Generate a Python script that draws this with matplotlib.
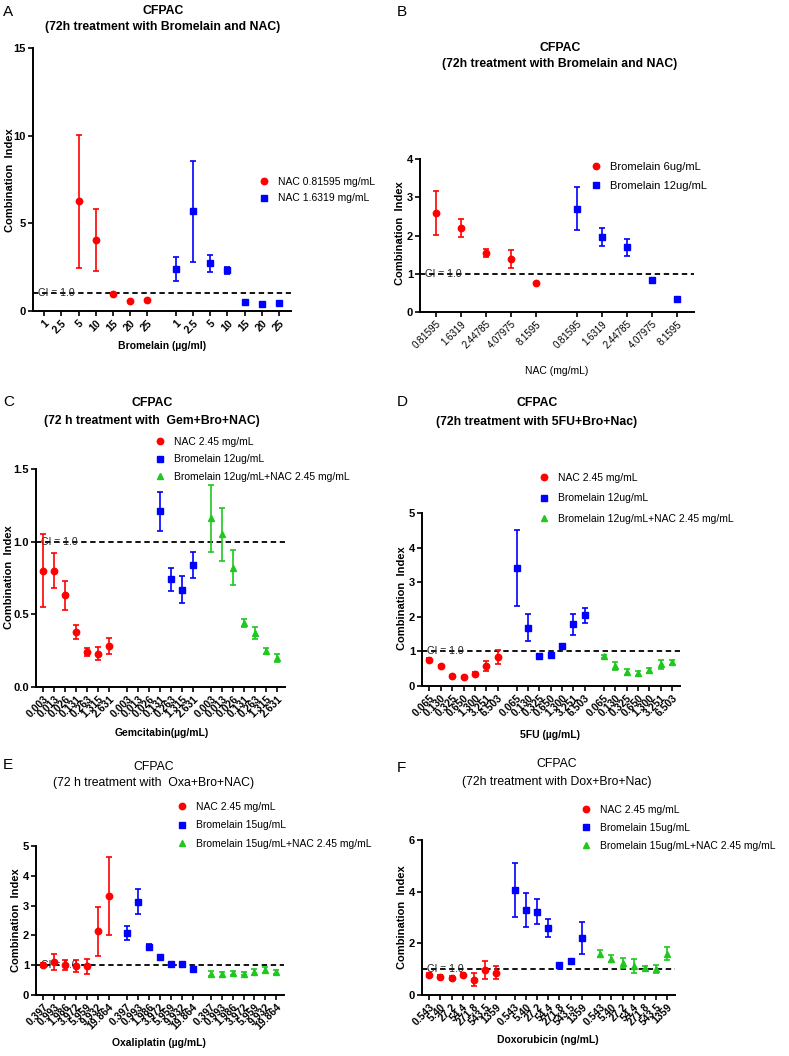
import numpy as np
import matplotlib.pyplot as plt
from matplotlib.lines import Line2D

plt.rcParams["font.family"] = ["Liberation Sans", "DejaVu Sans"]

nan = np.nan
W, H = 789, 1056
GAP = 0.67
RED, BLUE, GREEN = "#ff0000", "#0000ff", "#1fc71f"

# ---- data (mean, error) ----
labels_A = ["1", "2.5", "5", "10", "15", "20", "25"]
a_nac1 = [nan, nan, 6.27, 4.04, 0.99, 0.57, 0.65]
a_nac1_err = [nan, nan, 3.79, 1.75, 0.05, nan, nan]
a_nac2 = [2.40, 5.68, 2.72, 2.32, 0.50, 0.38, 0.48]
a_nac2_err = [0.67, 2.87, 0.47, 0.19, nan, nan, nan]

labels_B = ["0.81595", "1.6319", "2.44785", "4.07975", "8.1595"]
b_bro6 = [2.59, 2.20, 1.55, 1.39, 0.77]
b_bro6_err = [0.58, 0.23, 0.11, 0.23, nan]
b_bro12 = [2.70, 1.96, 1.69, 0.83, 0.34]
b_bro12_err = [0.56, 0.24, 0.22, nan, nan]

labels_C = ["0.003", "0.013", "0.026", "0.131", "0.263", "1.315", "2.631"]
c_nac = [0.80, 0.80, 0.63, 0.38, 0.24, 0.23, 0.28]
c_nac_err = [0.25, 0.12, 0.10, 0.05, 0.025, 0.045, 0.055]
c_bro = [nan, nan, nan, 1.21, 0.74, 0.67, 0.84]
c_bro_err = [nan, nan, nan, 0.135, 0.08, 0.095, 0.09]
c_combo = [1.16, 1.05, 0.82, 0.44, 0.37, 0.25, 0.20]
c_combo_err = [0.23, 0.18, 0.12, 0.03, 0.04, 0.02, 0.03]

labels_D = ["0.065", "0.130", "0.325", "0.650", "1.300", "3.251", "6.503"]
d_nac = [0.76, 0.57, 0.28, 0.26, 0.36, 0.57, 0.84]
d_nac_err = [0.05, 0.05, 0.03, 0.03, 0.04, 0.15, 0.19]
d_bro = [3.41, 1.69, 0.87, 0.91, 1.15, 1.78, 2.04]
d_bro_err = [1.11, 0.38, 0.05, 0.05, 0.06, 0.31, 0.22]
d_combo = [0.86, 0.57, 0.40, 0.37, 0.45, 0.63, 0.69]
d_combo_err = [0.04, 0.12, 0.09, 0.07, 0.07, 0.13, 0.07]

labels_E = ["0.397", "0.993", "1.986", "3.972", "5.959", "9.932", "19.864"]
e_nac = [1.00, 1.11, 1.02, 0.97, 0.96, 2.14, 3.33]
e_nac_err = [0.07, 0.26, 0.17, 0.19, 0.26, 0.82, 1.30]
e_bro = [2.08, 3.13, 1.61, 1.26, 1.04, 1.04, 0.88]
e_bro_err = [0.25, 0.42, 0.11, 0.04, 0.03, 0.03, 0.04]
e_combo = [0.72, 0.69, 0.74, 0.72, 0.77, 0.83, 0.77]
e_combo_err = [0.09, 0.07, 0.06, 0.06, 0.11, 0.10, 0.08]

labels_F = ["0.543", "5.40", "27.2", "54.4", "271.8", "543.5", "1359"]
f_nac = [0.79, 0.71, 0.67, 0.79, 0.60, 0.97, 0.87]
f_nac_err = [0.08, 0.07, 0.07, 0.06, 0.25, 0.35, 0.25]
f_bro = [4.06, 3.30, 3.23, 2.59, 1.18, 1.31, 2.21]
f_bro_err = [1.05, 0.66, 0.50, 0.35, 0.06, 0.10, 0.61]
f_combo = [1.60, 1.41, 1.24, 1.13, 1.05, 1.02, 1.60]
f_combo_err = [0.13, 0.14, 0.21, 0.26, 0.08, 0.16, 0.26]

fig = plt.figure(figsize=(W / 100, H / 100), dpi=100)

MS = {"o": 4.6, "s": 4.3, "^": 5.0}


def px_axes(left, top, right, bottom):
    return fig.add_axes([left / W, 1 - bottom / H, (right - left) / W, (bottom - top) / H])


def panel(rect, labels, series, ylim, yticks, yfmt="{:g}", tick_bold="bold", tick_fs=7.5):
    ax = px_axes(*rect)
    n = len(labels)
    all_pos = []
    for g, (vals, errs, color, marker) in enumerate(series):
        pos = g * (n + GAP) + np.arange(n)
        all_pos.extend(pos)
        ax.errorbar(pos, vals, yerr=errs, fmt=marker, color=color, ms=MS[marker],
                    elinewidth=1.2, capsize=2.2, capthick=1.2, zorder=4)
    ax.set_xlim(-0.65, all_pos[-1] + 0.7)
    ax.set_ylim(*ylim)
    ax.axhline(1.0, color="black", ls=(0, (3, 2)), lw=1.3, zorder=2)
    ax.text(0.02, 1.0, "CI = 1.0", transform=ax.get_yaxis_transform(), fontsize=7.5,
            va="center", ha="left", zorder=3, color="#222222")
    ax.set_xticks(all_pos)
    ax.set_xticklabels(labels * len(series), rotation=45, ha="right", va="top",
                       rotation_mode="anchor", fontsize=tick_fs, fontweight=tick_bold)
    ax.set_yticks(yticks)
    ax.set_yticklabels([yfmt.format(v) for v in yticks], fontsize=8, fontweight="bold")
    for s in ("top", "right"):
        ax.spines[s].set_visible(False)
    for s in ("left", "bottom"):
        ax.spines[s].set_linewidth(1.4)
    ax.tick_params(direction="out", length=3.5, width=1.2, pad=1.5)
    return ax


def legend(handles_spec, x_marker, y_first, row, fs):
    fs_px = fs * 100 / 72
    handles = [Line2D([], [], ls="none", marker=m, color=c, ms=MS[m]) for c, m, _ in handles_spec]
    labs = [t for _, _, t in handles_spec]
    hl = 1.0
    x0 = (x_marker - hl * fs_px / 2) / W
    y0 = 1 - (y_first - fs_px * 0.6) / H
    fig.legend(handles, labs, loc="upper left", bbox_to_anchor=(x0, y0), frameon=False,
               fontsize=fs, handlelength=hl, handletextpad=0.8, borderpad=0, borderaxespad=0,
               labelspacing=(row - fs_px * 1.1) / fs_px)


def title(x, y1, y2, line2, fs=8.8, weight="bold"):
    fig.text(x / W, 1 - y1 / H, "CFPAC", ha="center", va="center", fontsize=fs, fontweight=weight)
    fig.text(x / W, 1 - y2 / H, line2, ha="center", va="center", fontsize=fs, fontweight=weight)


def ylabel(x, y):
    fig.text(x / W, 1 - y / H, "Combination  Index", rotation=90, ha="center", va="center",
             fontsize=8, fontweight="bold")


def xlabel(x, y, text, weight="bold"):
    fig.text(x / W, 1 - y / H, text, ha="center", va="center", fontsize=7.5, fontweight=weight)


def letter(x, y, t):
    fig.text(x / W, 1 - y / H, t, ha="left", va="center", fontsize=11)


# ---- panel A ----
panel((33, 48, 291, 311), labels_A,
      [(a_nac1, a_nac1_err, RED, "o"), (a_nac2, a_nac2_err, BLUE, "s")],
      (0, 15), [0, 5, 10, 15])
legend([(RED, "o", "NAC 0.81595 mg/mL"), (BLUE, "s", "NAC 1.6319 mg/mL")], 264, 183, 18, 7.5)
title(163, 11, 27, "(72h treatment with Bromelain and NAC)")
ylabel(10, 180)
xlabel(162, 346, "Bromelain (µg/ml)")
letter(3, 12, "A")

# ---- panel B ----
panel((420, 159, 694, 312), labels_B,
      [(b_bro6, b_bro6_err, RED, "o"), (b_bro12, b_bro12_err, BLUE, "s")],
      (0, 4), [0, 1, 2, 3, 4], tick_bold="normal", tick_fs=7)
legend([(RED, "o", "Bromelain 6ug/mL"), (BLUE, "s", "Bromelain 12ug/mL")], 596, 169, 21, 8)
title(560, 48, 64, "(72h treatment with Bromelain and NAC)")
ylabel(400, 233)
xlabel(557, 371, "NAC (mg/mL)", weight="normal")
letter(397, 12, "B")

# ---- panel C ----
panel((36, 469, 285, 687), labels_C,
      [(c_nac, c_nac_err, RED, "o"), (c_bro, c_bro_err, BLUE, "s"), (c_combo, c_combo_err, GREEN, "^")],
      (0, 1.5), [0.0, 0.5, 1.0, 1.5], yfmt="{:.1f}")
legend([(RED, "o", "NAC 2.45 mg/mL"), (BLUE, "s", "Bromelain 12ug/mL"),
        (GREEN, "^", "Bromelain 12ug/mL+NAC 2.45 mg/mL")], 160, 443, 19, 7.5)
title(152, 403, 421, "(72 h treatment with  Gem+Bro+NAC)")
ylabel(9, 577)
xlabel(162, 733, "Gemcitabin(µg/mL)")
letter(3, 402, "C")

# ---- panel D ----
panel((422, 513, 680, 686), labels_D,
      [(d_nac, d_nac_err, RED, "o"), (d_bro, d_bro_err, BLUE, "s"), (d_combo, d_combo_err, GREEN, "^")],
      (0, 5), [0, 1, 2, 3, 4, 5])
legend([(RED, "o", "NAC 2.45 mg/mL"), (BLUE, "s", "Bromelain 12ug/mL"),
        (GREEN, "^", "Bromelain 12ug/mL+NAC 2.45 mg/mL")], 544, 479, 22, 7.5)
title(537, 403, 422, "(72h treatment with 5FU+Bro+Nac)")
ylabel(402, 598)
xlabel(550, 735, "5FU (µg/mL)")
letter(397, 402, "D")

# ---- panel E ----
panel((36, 846, 284, 995), labels_E,
      [(e_nac, e_nac_err, RED, "o"), (e_bro, e_bro_err, BLUE, "s"), (e_combo, e_combo_err, GREEN, "^")],
      (0, 5), [0, 1, 2, 3, 4, 5])
legend([(RED, "o", "NAC 2.45 mg/mL"), (BLUE, "s", "Bromelain 15ug/mL"),
        (GREEN, "^", "Bromelain 15ug/mL+NAC 2.45 mg/mL")], 182, 808, 20, 7.5)
title(154, 767, 783, "(72 h treatment with  Oxa+Bro+NAC)", weight="normal")
ylabel(16, 920)
xlabel(159, 1043, "Oxaliplatin (µg/mL)")
letter(3, 765, "E")

# ---- panel F ----
panel((422, 840, 675, 995), labels_F,
      [(f_nac, f_nac_err, RED, "o"), (f_bro, f_bro_err, BLUE, "s"), (f_combo, f_combo_err, GREEN, "^")],
      (0, 6), [0, 2, 4, 6])
legend([(RED, "o", "NAC 2.45 mg/mL"), (BLUE, "s", "Bromelain 15ug/mL"),
        (GREEN, "^", "Bromelain 15ug/mL+NAC 2.45 mg/mL")], 586, 811, 19.5, 7.5)
title(557, 764, 782, "(72h treatment with Dox+Bro+Nac)", weight="normal")
ylabel(402, 917)
xlabel(548, 1040, "Doxorubicin (ng/mL)")
letter(397, 768, "F")

fig.savefig("out.png", dpi=100)
